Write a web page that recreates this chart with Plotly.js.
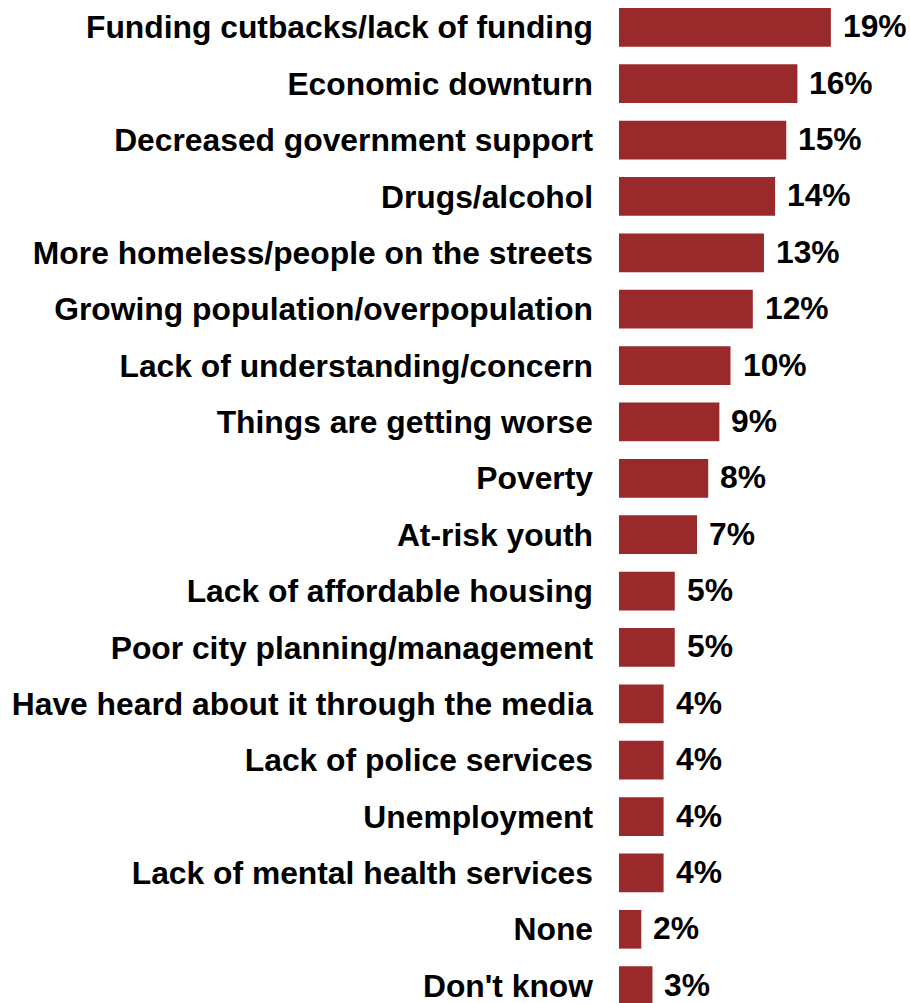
<!DOCTYPE html>
<html>
<head>
<meta charset="utf-8">
<script src="https://cdn.plot.ly/plotly-3.0.1.min.js"></script>
<style>html,body{margin:0;padding:0;background:#fff;}#chart{width:910px;height:1003px;}</style>
</head>
<body>
<div id="chart"></div>
<script>
const categories = [
  "Funding cutbacks/lack of funding",
  "Economic downturn",
  "Decreased government support",
  "Drugs/alcohol",
  "More homeless/people on the streets",
  "Growing population/overpopulation",
  "Lack of understanding/concern",
  "Things are getting worse",
  "Poverty",
  "At-risk youth",
  "Lack of affordable housing",
  "Poor city planning/management",
  "Have heard about it through the media",
  "Lack of police services",
  "Unemployment",
  "Lack of mental health services",
  "None",
  "Don't know"
];
const values = [19, 16, 15, 14, 13, 12, 10, 9, 8, 7, 5, 5, 4, 4, 4, 4, 2, 3];
const valueLabels = values.map(v => v + "%");

const FONT = "'Liberation Sans', Arial, Helvetica, sans-serif";
const annotations = categories.map((c, i) => ({
  x: values[i], y: c, xref: 'x', yref: 'y',
  text: valueLabels[i], showarrow: false,
  xanchor: 'left', yanchor: 'middle', xshift: 10, yshift: 1,
  font: {family: FONT, size: 31.8, color: '#000', weight: 'bold'}
}));

const trace = {
  type: 'bar', orientation: 'h',
  x: values, y: categories,
  marker: {color: '#9a292c', line: {width: 0}},
  hoverinfo: 'none'
};

const layout = {
  width: 910, height: 1003,
  margin: {l: 619, r: 10, t: 0, b: 0, pad: 0},
  paper_bgcolor: '#fff', plot_bgcolor: '#fff',
  showlegend: false,
  bargap: 0.314,
  xaxis: {range: [0, 25.2], visible: false, fixedrange: true},
  yaxis: {
    type: 'category', categoryorder: 'array', categoryarray: categories,
    range: [17.307, -0.4843],
    showgrid: false, zeroline: false, showline: false, ticks: '',
    ticklabelstandoff: 25,
    tickfont: {family: FONT, size: 31.8, color: '#000', weight: 'bold'}
  },
  annotations: annotations
};

Plotly.newPlot('chart', [trace], layout, {displayModeBar: false, staticPlot: true});
</script>
</body>
</html>
